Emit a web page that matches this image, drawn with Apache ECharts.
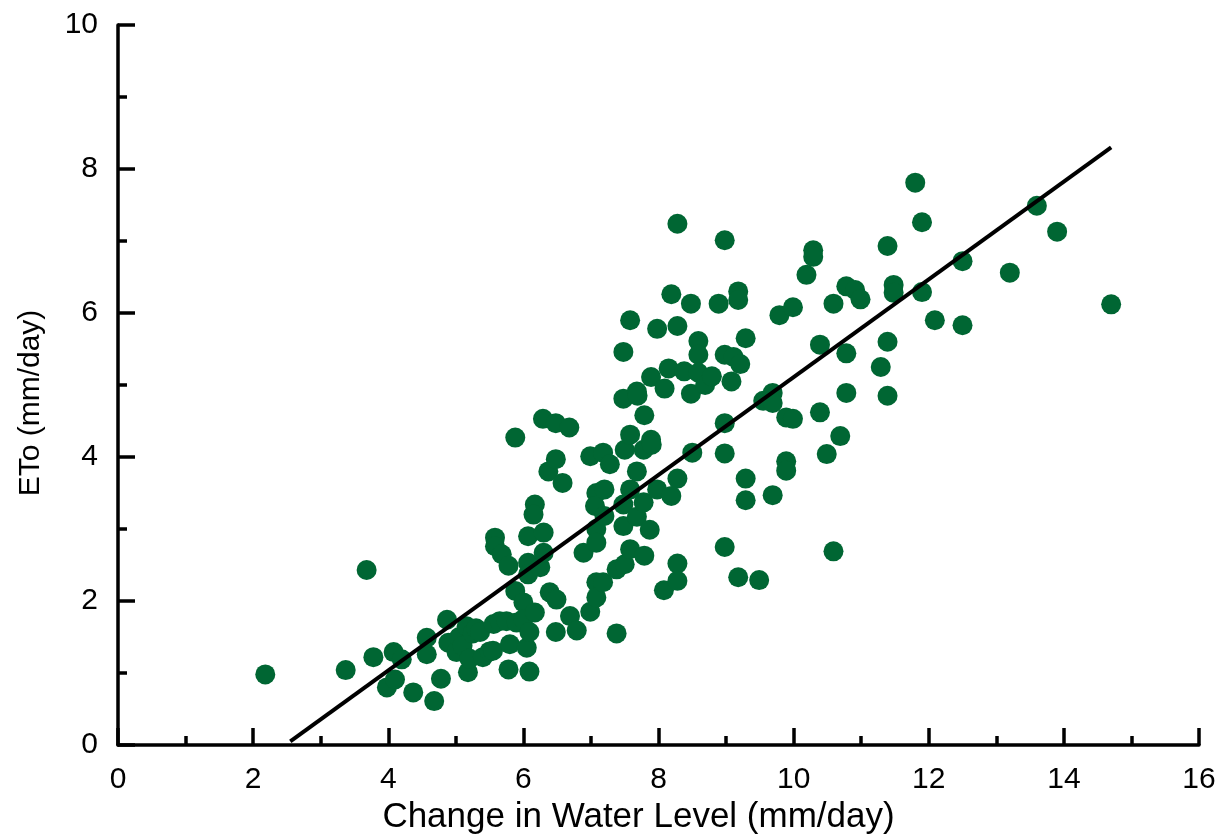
<!DOCTYPE html>
<html>
<head>
<meta charset="utf-8">
<script src="https://cdn.jsdelivr.net/npm/echarts@6/dist/echarts.min.js"></script>
<style>
  html, body { margin: 0; padding: 0; background: #fff; }
  #chart { width: 1226px; height: 840px; }
</style>
</head>
<body>
<div id="chart"></div>
<script>
// change in water level (mm/day) vs ETo (mm/day)
var waterLevel = [
  2.18, 3.37, 3.68, 3.78, 3.98, 4.08, 4.10, 4.20, 4.37, 4.57, 4.57, 4.68, 4.78, 4.87, 4.89,
  5.01, 5.05, 5.10, 5.16, 5.18, 5.20, 5.25, 5.30, 5.36, 5.40, 5.50, 5.55, 5.56, 5.58, 5.58,
  5.65, 5.68, 5.75, 5.78, 5.78, 5.80, 5.88, 5.88, 5.90, 6.00, 6.00, 6.05, 6.09, 6.09, 6.07,
  6.07, 6.07, 6.17, 6.15, 6.17, 6.25, 6.29, 6.30, 6.30, 6.37, 6.39, 6.48, 6.48, 6.49, 6.48,
  6.58, 6.68, 6.69, 6.79, 6.89, 6.99, 6.99, 7.08, 7.06, 7.08, 7.08, 7.08, 7.08, 7.18, 7.20,
  7.20, 7.18, 7.28, 7.38, 7.38, 7.48, 7.48, 7.50, 7.48, 7.48, 7.50, 7.58, 7.58, 7.58, 7.58,
  7.68, 7.69, 7.68, 7.68, 7.79, 7.78, 7.78, 7.79, 7.89, 7.89, 7.90, 7.87, 7.98, 7.98, 8.09,
  8.08, 8.19, 8.15, 8.19, 8.28, 8.28, 8.28, 8.28, 8.28, 8.38, 8.48, 8.48, 8.50, 8.59, 8.59,
  8.59, 8.69, 8.79, 8.89, 8.98, 8.98, 8.98, 8.98, 8.98, 9.08, 9.11, 9.18, 9.18, 9.21, 9.18,
  9.29, 9.29, 9.29, 9.49, 9.55, 9.69, 9.69, 9.69, 9.79, 9.89, 9.89, 9.89, 9.99, 9.99, 10.19,
  10.29, 10.29, 10.39, 10.39, 10.49, 10.59, 10.59, 10.69, 10.78, 10.78, 10.78, 10.91, 10.99, 11.29, 11.39,
  11.39, 11.39, 11.48, 11.48, 11.80, 11.90, 11.90, 12.09, 12.50, 12.50, 13.20, 13.60, 13.90, 14.70
];
var eto = [
  0.98, 1.04, 2.43, 1.22, 0.80, 1.29, 0.91, 1.19, 0.73, 1.26, 1.49, 0.61, 0.92, 1.74, 1.42,
  1.29, 1.50, 1.38, 1.65, 1.01, 1.20, 1.55, 1.62, 1.57, 1.22, 1.30, 1.31, 1.68, 2.88, 2.76,
  1.72, 2.65, 1.72, 2.49, 1.05, 1.40, 4.27, 2.14, 1.70, 1.98, 1.75, 1.35, 1.57, 1.02, 2.90,
  2.53, 2.37, 3.34, 3.20, 1.84, 2.47, 4.53, 2.95, 2.67, 3.80, 2.12, 4.47, 3.97, 2.02, 1.57,
  3.64, 4.41, 1.79, 1.59, 2.67, 4.01, 1.85, 3.50, 3.32, 3.00, 2.81, 2.26, 2.05, 4.06, 3.55,
  3.18, 2.26, 3.90, 2.44, 1.55, 5.46, 4.81, 4.10, 3.34, 3.04, 2.51, 5.90, 4.31, 3.55, 2.72,
  4.91, 4.85, 3.80, 3.17, 4.58, 4.10, 3.37, 2.63, 5.11, 4.24, 4.17, 2.99, 5.78, 3.55, 4.95,
  2.15, 6.26, 5.23, 3.46, 7.24, 5.82, 3.70, 2.52, 2.28, 5.19, 6.13, 4.88, 4.06, 5.61, 5.42,
  5.17, 5.00, 5.12, 6.13, 7.01, 5.42, 4.47, 4.05, 2.75, 5.05, 5.39, 6.30, 6.18, 5.29, 2.33,
  5.65, 3.70, 3.40, 2.29, 4.78, 4.89, 4.75, 3.47, 5.97, 4.55, 3.94, 3.81, 6.08, 4.53, 6.53,
  6.87, 6.78, 5.56, 4.62, 4.04, 6.13, 2.69, 4.29, 6.37, 5.44, 4.89, 6.32, 6.19, 5.25, 6.93,
  5.60, 4.85, 6.39, 6.28, 7.81, 7.26, 6.29, 5.90, 6.72, 5.83, 6.56, 7.49, 7.13, 6.12
];
// end points of the fitted line
var fitX = [2.55, 14.7];
var fitY = [0.05, 8.30];

var xTicks = [0, 2, 4, 6, 8, 10, 12, 14, 16];
var yTicks = [0, 2, 4, 6, 8, 10];

var points = waterLevel.map(function (x, i) { return [x, eto[i]]; });
var fit = fitX.map(function (x, i) { return [x, fitY[i]]; });

var font = 'Liberation Sans, Arial, sans-serif';
var chart = echarts.init(document.getElementById('chart'));

var axisCommon = {
  type: 'value',
  interval: 2,
  splitLine: { show: false },
  axisLine: { show: true, onZero: false, lineStyle: { color: '#000', width: 3.5 } },
  axisTick: { show: true, inside: true, length: 17, lineStyle: { color: '#000', width: 3.5 } },
  minorTick: { show: true, splitNumber: 2, length: 9, lineStyle: { color: '#000', width: 3.5 } },
  axisLabel: { color: '#000', fontSize: 30, fontFamily: font },
  nameLocation: 'middle'
};

chart.setOption({
  animation: false,
  backgroundColor: '#fff',
  grid: { left: 118, right: 27, top: 25, bottom: 94 },
  xAxis: Object.assign({}, axisCommon, {
    min: xTicks[0], max: xTicks[xTicks.length - 1],
    name: 'Change in Water Level (mm/day)',
    nameGap: 55,
    nameTextStyle: { color: '#000', fontFamily: font, fontSize: 35, padding: [0, 40, 0, 0] },
    axisLabel: Object.assign({}, axisCommon.axisLabel, { margin: 20 })
  }),
  yAxis: Object.assign({}, axisCommon, {
    min: yTicks[0], max: yTicks[yTicks.length - 1],
    name: 'ETo (mm/day)',
    nameGap: 72,
    nameTextStyle: { color: '#000', fontFamily: font, fontSize: 30, padding: [0, 36, 0, 0] },
    axisLabel: Object.assign({}, axisCommon.axisLabel, { margin: 20 })
  }),
  series: [
    {
      type: 'scatter',
      data: points,
      symbol: 'circle',
      symbolSize: 20,
      itemStyle: { color: '#006633', opacity: 1 }
    },
    {
      type: 'line',
      data: fit,
      symbol: 'none',
      lineStyle: { color: '#000', width: 4 },
      z: 3
    }
  ]
});
</script>
</body>
</html>
